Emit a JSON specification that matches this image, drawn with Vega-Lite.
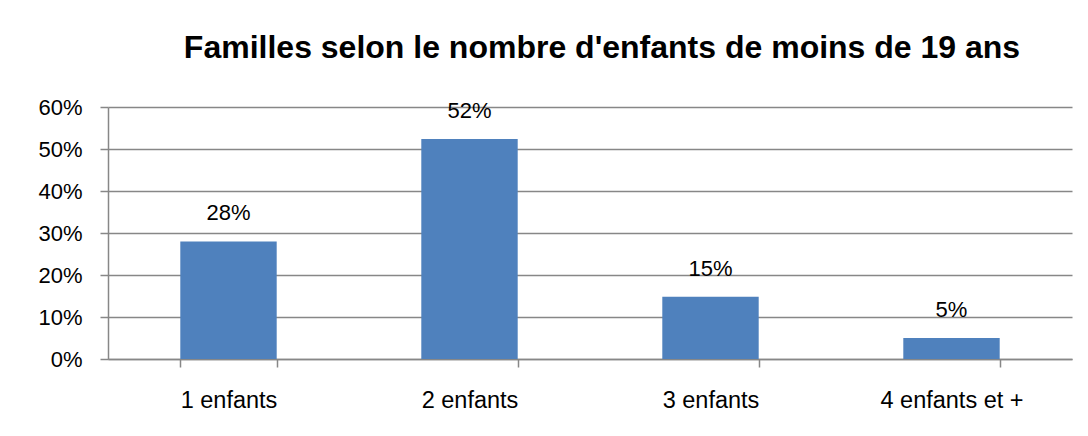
{
  "$schema": "https://vega.github.io/schema/vega-lite/v6.json",
  "width": 964,
  "height": 252,
  "autosize": {"type": "none"},
  "padding": {"left": 108, "top": 107, "right": 16, "bottom": 77},
  "background": "white",
  "title": {
    "text": "Familles selon le nombre d'enfants de moins de 19 ans",
    "font": "Liberation Sans",
    "fontSize": 32,
    "fontWeight": "bold",
    "color": "#000000",
    "anchor": "middle",
    "dx": 12,
    "offset": 31
  },
  "data": {
    "values": [
      {"categorie": "1 enfants", "part": 0.28},
      {"categorie": "2 enfants", "part": 0.524},
      {"categorie": "3 enfants", "part": 0.148},
      {"categorie": "4 enfants et +", "part": 0.05}
    ]
  },
  "encoding": {
    "x": {
      "field": "categorie",
      "type": "nominal",
      "sort": null,
      "title": null,
      "scale": {"paddingInner": 0.6, "paddingOuter": 0.3},
      "axis": {
        "labelAngle": 0,
        "labelFont": "Liberation Sans",
        "labelFontSize": 23.5,
        "labelColor": "#000000",
        "labelPadding": 21,
        "domainColor": "#878787",
        "domainWidth": 1.5,
        "tickColor": "#878787",
        "tickWidth": 1.5,
        "tickSize": 8,
        "tickBand": "extent",
        "grid": false
      }
    },
    "y": {
      "field": "part",
      "type": "quantitative",
      "title": null,
      "scale": {"domain": [0, 0.6], "nice": false},
      "axis": {
        "format": ".0%",
        "values": [0, 0.1, 0.2, 0.3, 0.4, 0.5, 0.6],
        "labelFont": "Liberation Sans",
        "labelFontSize": 22,
        "labelColor": "#000000",
        "labelPadding": 18,
        "domainColor": "#878787",
        "domainWidth": 1.5,
        "tickColor": "#878787",
        "tickWidth": 1.5,
        "tickSize": 8,
        "grid": true,
        "gridColor": "#878787",
        "gridWidth": 1.5
      }
    }
  },
  "layer": [
    {"mark": {"type": "bar", "color": "#4F81BD"}},
    {
      "mark": {
        "type": "text",
        "baseline": "bottom",
        "dy": -16,
        "font": "Liberation Sans",
        "fontSize": 22,
        "color": "#000000"
      },
      "encoding": {
        "text": {"field": "part", "type": "quantitative", "format": ".0%"}
      }
    }
  ],
  "config": {"view": {"stroke": null}}
}
